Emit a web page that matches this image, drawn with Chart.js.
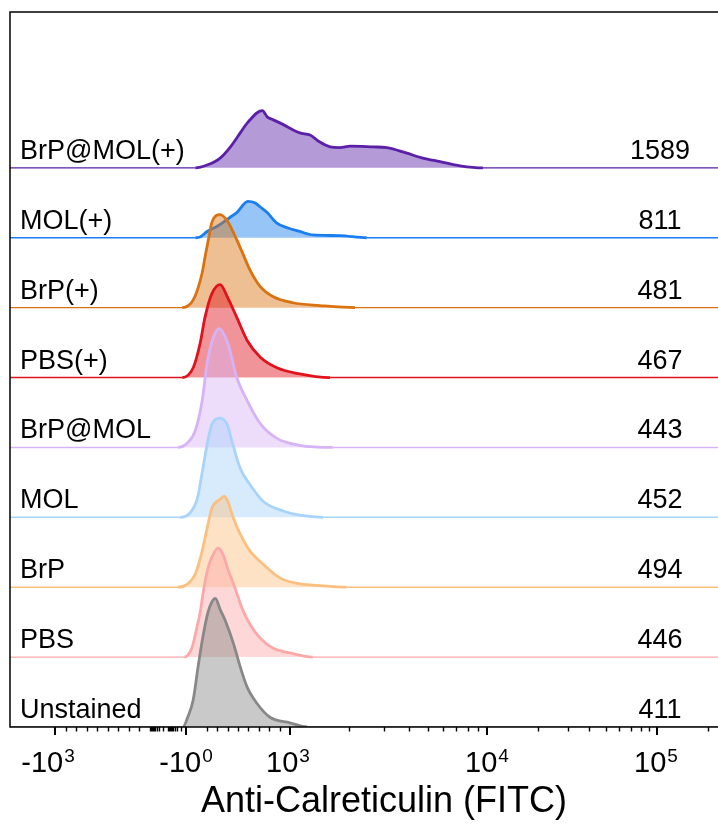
<!DOCTYPE html>
<html>
<head>
<meta charset="utf-8">
<script src="https://cdn.jsdelivr.net/npm/chart.js@4.4.1/dist/chart.umd.min.js"></script>
<style>
  html, body { margin: 0; padding: 0; background: #fff; }
</style>
</head>
<body>
<canvas id="histo" width="718" height="828"></canvas>
<script>
// samples, bottom row first
const samples = ['Unstained', 'PBS', 'BrP', 'MOL', 'BrP@MOL', 'PBS(+)', 'BrP(+)', 'MOL(+)', 'BrP@MOL(+)'];
const mfi = [411, 446, 494, 452, 443, 467, 481, 811, 1589];
const lineColors = ['#888888', '#fda8a8', '#fbbf80', '#a8d3fb', '#d6b3f7', '#e0121c', '#d9720f', '#1a7ef0', '#5b1fa8'];
const ROW_STEP = 100;

// histograms as [display channel (0-1024), count]
const unstained = [[250,0],[257,14],[265,39],[272,86],[279,129],[286,163],[292,179],[297,184],[304,168],[311,153],[323,120],[333,86],[343,57],[357,34],[376,14],[405,6],[430,0]];
const pbs = [[252,0],[263,13],[270,41],[275,64],[279,90],[285,122],[292,143],[301,156],[308,147],[315,126],[325,100],[336,69],[347,47],[362,27],[380,13],[405,6],[438,0]];
const brp = [[243,0],[256,4],[268,19],[278,52],[285,84],[292,113],[304,126],[310,130],[315,123],[323,99],[333,76],[347,52],[366,33],[391,13],[424,4],[438,3],[487,0]];
const mol = [[246,0],[260,6],[271,27],[279,70],[286,109],[292,133],[304,142],[314,133],[321,109],[333,70],[347,47],[366,23],[395,9],[419,3],[453,0]];
const brpMol = [[243,0],[256,6],[268,24],[278,67],[285,120],[294,157],[302,170],[315,149],[328,100],[343,67],[362,34],[386,13],[419,3],[467,0]];
const pbsPlus = [[249,0],[265,14],[275,49],[282,86],[292,120],[304,133],[315,114],[328,86],[343,53],[362,29],[386,14],[415,6],[463,0]];
const brpPlus = [[249,0],[265,11],[278,50],[282,72],[288,103],[292,122],[304,133],[315,123],[328,97],[336,79],[347,54],[362,30],[380,16],[409,7],[448,3],[499,0]];
const molPlus = [[268,0],[275,1],[285,9],[299,16],[318,29],[328,36],[344,52],[354,50],[362,44],[372,36],[386,21],[402,14],[419,9],[438,4],[477,3],[516,0]];
const brpMolPlus = [[268,0],[285,4],[304,14],[318,29],[333,50],[343,64],[365,82],[372,73],[380,69],[391,64],[419,50],[434,47],[448,37],[463,30],[477,29],[492,31],[525,30],[545,29],[574,21],[597,14],[622,9],[651,3],[684,0]];
const histograms = [unstained, pbs, brp, mol, brpMol, pbsPlus, brpPlus, molPlus, brpMolPlus];

// biexponential display: fluorescence value -> channel, piecewise
const axisAnchors = [[-1000, 65.1], [-100, 202.5], [-1, 254.6], [1000, 405.0], [1e4, 689.9], [1e5, 935.8], [1e6, 1181.7]];
const axisLogSeg = [false, true, false, true, true, true];
const majorTicks = [-1000, -1, 1000, 1e4, 1e5];
const majorBase = ['-10', '-10', '10', '10', '10'];
const majorExp = ['3', '0', '3', '4', '5'];
const majorNudge = [-7, 0, -2, 0, -1];

function chan(v) {
  for (let i = 0; i < axisAnchors.length - 1; i++) {
    const [v0, c0] = axisAnchors[i];
    const [v1, c1] = axisAnchors[i + 1];
    if (v >= v0 && v <= v1) {
      let t;
      if (axisLogSeg[i]) {
        const l0 = Math.log10(Math.abs(v0)), l1 = Math.log10(Math.abs(v1));
        t = (Math.log10(Math.abs(v)) - l0) / (l1 - l0);
      } else {
        t = (v - v0) / (v1 - v0);
      }
      return c0 + t * (c1 - c0);
    }
  }
  return NaN;
}

const minorTicks = [];
for (let m = 2; m <= 9; m++) {
  minorTicks.push(-m * 100, -m * 10, -m, m * 100, m * 1000, m * 10000);
}
minorTicks.push(-100, -10, 200000);

function withAlpha(hex, a) {
  const n = parseInt(hex.slice(1), 16);
  return `rgba(${(n >> 16) & 255},${(n >> 8) & 255},${n & 255},${a})`;
}

const datasets = histograms.map((hist, i) => {
  const base = i * ROW_STEP;
  const pts = [{ x: 0, y: base }]
    .concat(hist.map(p => ({ x: p[0], y: base + p[1] })))
    .concat([{ x: 1024, y: base }]);
  return {
    label: samples[i],
    data: pts,
    borderColor: lineColors[i],
    backgroundColor: withAlpha(lineColors[i], 0.45),
    fill: { value: base },
    borderWidth: 2.8,
    pointRadius: 0,
    cubicInterpolationMode: 'monotone',
    segment: {
      borderWidth: ctx => (ctx.p0.parsed.y === base && ctx.p1.parsed.y === base ? 1.4 : 2.8)
    }
  };
});

const FONT = '"Liberation Sans", Arial, sans-serif';

const decor = {
  id: 'decor',
  afterDraw(chart) {
    const { ctx, chartArea: a, scales: { x, y } } = chart;
    ctx.save();

    // frame: left, top and the x axis line
    ctx.strokeStyle = '#000';
    ctx.lineWidth = 1.5;
    ctx.beginPath();
    ctx.moveTo(a.right, a.top);
    ctx.lineTo(a.left, a.top);
    ctx.lineTo(a.left, a.bottom);
    ctx.lineTo(a.right, a.bottom);
    ctx.stroke();

    // tick marks
    ctx.lineWidth = 1.4;
    ctx.beginPath();
    minorTicks.forEach(v => {
      const px = Math.round(x.getPixelForValue(chan(v))) + 0.5;
      if (px > a.right) return;
      ctx.moveTo(px, a.bottom);
      ctx.lineTo(px, a.bottom + 4.5);
    });
    ctx.stroke();
    ctx.lineWidth = 2;
    ctx.beginPath();
    majorTicks.forEach(v => {
      const px = Math.round(x.getPixelForValue(chan(v)));
      ctx.moveTo(px, a.bottom);
      ctx.lineTo(px, a.bottom + 8);
    });
    ctx.stroke();

    // tick labels with superscript exponents
    ctx.fillStyle = '#000';
    ctx.textBaseline = 'alphabetic';
    ctx.textAlign = 'left';
    majorTicks.forEach((v, i) => {
      const px = x.getPixelForValue(chan(v)) + majorNudge[i];
      ctx.font = `29px ${FONT}`;
      const wb = ctx.measureText(majorBase[i]).width;
      ctx.font = `19px ${FONT}`;
      const we = ctx.measureText(majorExp[i]).width;
      const x0 = px - (wb + we + 1) / 2;
      ctx.font = `29px ${FONT}`;
      ctx.fillText(majorBase[i], x0, a.bottom + 45);
      ctx.font = `19px ${FONT}`;
      ctx.fillText(majorExp[i], x0 + wb + 1, a.bottom + 35);
    });

    // axis title
    ctx.textAlign = 'center';
    ctx.font = `36px ${FONT}`;
    ctx.fillText('Anti-Calreticulin (FITC)', (a.left + a.right) / 2 + 20, a.bottom + 85);

    // sample names and MFI per row
    ctx.font = `27px ${FONT}`;
    samples.forEach((name, i) => {
      const py = y.getPixelForValue(i * ROW_STEP) - 9;
      ctx.textAlign = 'left';
      ctx.fillText(name, a.left + 10, py);
      ctx.textAlign = 'center';
      ctx.fillText(String(mfi[i]), a.right - 58, py);
    });

    ctx.restore();
  }
};

new Chart(document.getElementById('histo'), {
  type: 'line',
  data: { datasets },
  options: {
    responsive: false,
    animation: false,
    devicePixelRatio: 1,
    layout: { padding: { left: 10, top: 12, right: 0, bottom: 101 } },
    plugins: { legend: { display: false }, tooltip: { enabled: false } },
    scales: {
      x: { type: 'linear', min: 0, max: 1024, display: false },
      y: { min: 0, max: 1023, display: false }
    }
  },
  plugins: [decor]
});
</script>
</body>
</html>
